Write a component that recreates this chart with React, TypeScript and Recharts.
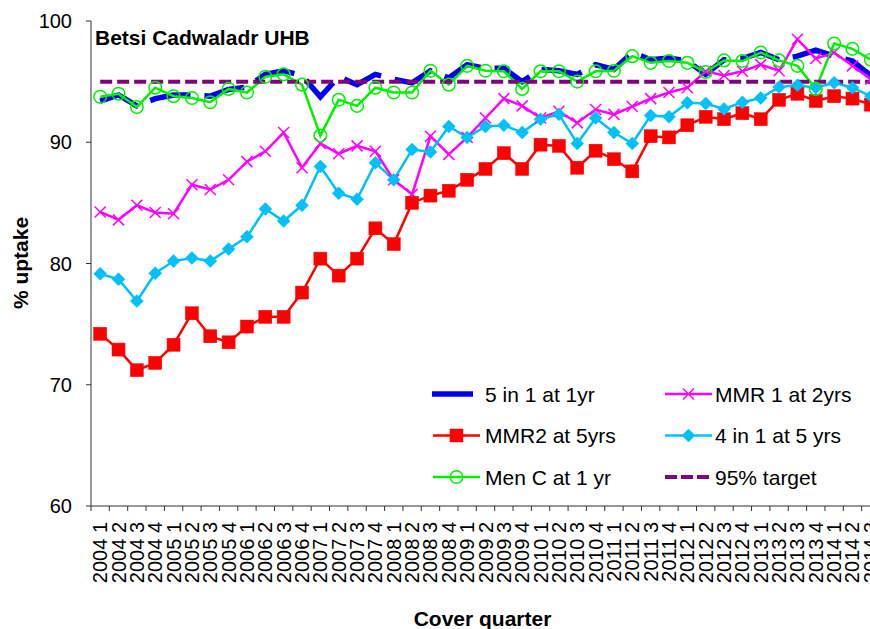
import React from 'react';
import { LineChart, Line, XAxis, YAxis, Legend } from 'recharts';

// ---------- data ----------
const quarters = [
  '2004 1', '2004 2', '2004 3', '2004 4',
  '2005 1', '2005 2', '2005 3', '2005 4',
  '2006 1', '2006 2', '2006 3', '2006 4',
  '2007 1', '2007 2', '2007 3', '2007 4',
  '2008 1', '2008 2', '2008 3', '2008 4',
  '2009 1', '2009 2', '2009 3', '2009 4',
  '2010 1', '2010 2', '2010 3', '2010 4',
  '2011 1', '2011 2', '2011 3', '2011 4',
  '2012 1', '2012 2', '2012 3', '2012 4',
  '2013 1', '2013 2', '2013 3', '2013 4',
  '2014 1', '2014 2', '2014 3',
];

const fiveInOne = [
  93.4, 93.9, 93.0, 93.6, 93.9, 93.9, 93.8, 94.35, 94.55, 95.6,
  95.9, 95.5, 93.75, 95.4, 94.75, 95.6, 95.2, 94.9, 95.9, 95.3,
  96.4, 96.1, 96.1, 95.0, 96.0, 95.9, 95.6, 96.4, 96.0, 97.4,
  96.8, 96.95, 96.7, 95.6, 96.8, 96.9, 97.4, 96.8, 97.1, 97.6,
  97.1, 96.7, 95.5,
];

const mmr1 = [
  84.25, 83.6, 84.8, 84.2, 84.1, 86.5, 86.1, 86.9, 88.4, 89.25,
  90.8, 87.9, 89.9, 89.05, 89.7, 89.25, 86.9, 85.7, 90.5, 89.0,
  90.4, 92.0, 93.6, 93.0, 92.0, 92.55, 91.6, 92.7, 92.3, 92.95,
  93.6, 94.1, 94.5, 95.85, 95.5, 95.85, 96.4, 95.9, 98.5, 96.9,
  97.4, 96.3, 95.2,
];

const mmr2 = [
  74.2, 72.9, 71.2, 71.8, 73.3, 75.9, 74.0, 73.5, 74.8, 75.6,
  75.6, 77.6, 80.4, 79.0, 80.4, 82.9, 81.6, 85.0, 85.6, 86.0,
  86.9, 87.8, 89.1, 87.8, 89.8, 89.7, 87.9, 89.3, 88.6, 87.6,
  90.5, 90.4, 91.4, 92.1, 91.9, 92.4, 91.9, 93.5, 94.0, 93.4,
  93.8, 93.6, 93.1,
];

const fourInOne = [
  79.15, 78.7, 76.9, 79.2, 80.2, 80.45, 80.2, 81.2, 82.2, 84.5,
  83.5, 84.8, 88.0, 85.8, 85.3, 88.3, 86.9, 89.4, 89.2, 91.3,
  90.4, 91.3, 91.4, 90.8, 91.9, 92.3, 89.9, 92.0, 90.8, 89.9,
  92.2, 92.1, 93.25, 93.2, 92.75, 93.3, 93.65, 94.55, 94.7, 94.5,
  94.9, 94.5, 93.8,
];

const menC = [
  93.75, 94.0, 92.9, 94.5, 93.8, 93.65, 93.3, 94.4, 94.1, 95.4,
  95.6, 94.75, 90.55, 93.5, 93.0, 94.5, 94.1, 94.1, 95.9, 94.75,
  96.3, 95.9, 95.85, 94.4, 95.85, 95.85, 95.0, 95.85, 95.9, 97.1,
  96.55, 96.7, 96.55, 95.8, 96.75, 96.7, 97.4, 96.75, 96.3, 94.4,
  98.15, 97.7, 96.8,
];

const target = [
  95, 95, 95, 95, 95, 95, 95, 95, 95, 95,
  95, 95, 95, 95, 95, 95, 95, 95, 95, 95,
  95, 95, 95, 95, 95, 95, 95, 95, 95, 95,
  95, 95, 95, 95, 95, 95, 95, 95, 95, 95,
  95, 95, 95,
];

const yTicks = [60, 70, 80, 90, 100];

const seriesNames = {
  fiveInOne: '5 in 1 at 1yr',
  mmr1: 'MMR 1 at 2yrs',
  mmr2: 'MMR2 at 5yrs',
  fourInOne: '4 in 1 at 5 yrs',
  menC: 'Men C at 1 yr',
  target: '95% target',
};

const rows = quarters.map((q, i) => ({
  quarter: q,
  fiveInOne: fiveInOne[i],
  mmr1: mmr1[i],
  mmr2: mmr2[i],
  fourInOne: fourInOne[i],
  menC: menC[i],
  target: target[i],
}));

// ---------- layout / style ----------
const FONT = '"Liberation Sans", Arial, sans-serif';
const CHART_W = 890;
const CHART_H = 629;
const MARGIN = { top: 21, right: 10, bottom: 43, left: 31 };
const Y_AXIS_W = 60;
const X_AXIS_H = 80;
const PLOT_W = CHART_W - MARGIN.left - MARGIN.right - Y_AXIS_W;
const BAND = PLOT_W / quarters.length;
const AXIS_COLOR = '#333333';

const C_BLUE = '#0000F0';
const C_MAG = '#FF00FF';
const C_RED = '#FF0000';
const C_CYAN = '#00C0F8';
const C_GREEN = '#00F000';
const C_PURPLE = '#800080';

const XMark = (cx: number, cy: number, key?: any) => (
  <path
    key={key}
    d={`M${cx - 5.5},${cy - 5.5}L${cx + 5.5},${cy + 5.5}M${cx - 5.5},${cy + 5.5}L${cx + 5.5},${cy - 5.5}`}
    stroke={C_MAG}
    strokeWidth={1.5}
    fill="none"
  />
);
const Square = (cx: number, cy: number, key?: any) => (
  <rect key={key} x={cx - 6.5} y={cy - 6.5} width={13} height={13} fill={C_RED} stroke={C_RED} strokeWidth={0.5} />
);
const Diamond = (cx: number, cy: number, key?: any) => (
  <path key={key} d={`M${cx},${cy - 6.5}L${cx + 6.5},${cy}L${cx},${cy + 6.5}L${cx - 6.5},${cy}Z`} fill={C_CYAN} stroke={C_CYAN} strokeWidth={0.5} />
);
const Ring = (cx: number, cy: number, key?: any) => (
  <circle key={key} cx={cx} cy={cy} r={6.3} fill="none" stroke={C_GREEN} strokeWidth={1.5} />
);

const dotFn = (shape: (cx: number, cy: number, key?: any) => React.ReactElement) => (props: any) => {
  const { cx, cy, index } = props;
  if (cx == null || cy == null) return <g key={index} />;
  return shape(cx, cy, index);
};

const XTick = (props: any) => {
  const { x, y, payload, index } = props;
  const half = BAND / 2;
  return (
    <g>
      <line x1={x - half} x2={x - half} y1={y} y2={y + 5} stroke={AXIS_COLOR} strokeWidth={1} />
      {index === quarters.length - 1 && (
        <line x1={x + half} x2={x + half} y1={y} y2={y + 5} stroke={AXIS_COLOR} strokeWidth={1} />
      )}
      <text
        transform={`translate(${x},${y + 16}) rotate(-90)`}
        textAnchor="end"
        dy="0.35em"
        fontSize={20}
        fontFamily={FONT}
        fill="#000"
      >
        {payload.value}
      </text>
    </g>
  );
};

// legend layout (relative to legend wrapper)
const LEG_LEFT = 420;
const LEG_TOP = 370;
const legendItems = [
  { key: 'fiveInOne', col: 0, row: 0 },
  { key: 'mmr1', col: 1, row: 0 },
  { key: 'mmr2', col: 0, row: 1 },
  { key: 'fourInOne', col: 1, row: 1 },
  { key: 'menC', col: 0, row: 2 },
  { key: 'target', col: 1, row: 2 },
];

const LegendContent = () => {
  const colX = [13, 245];
  const textX = [65, 295];
  const rowY = [24, 65.5, 107];
  return (
    <svg width={450} height={130} style={{ display: 'block', overflow: 'visible' }}>
      {legendItems.map((it) => {
        const x0 = colX[it.col];
        const y = rowY[it.row];
        const cx = x0 + 23.5;
        let icon: React.ReactNode = null;
        if (it.key === 'fiveInOne') {
          icon = <line x1={x0 - 1} x2={x0 + 40} y1={y} y2={y} stroke={C_BLUE} strokeWidth={5.5} />;
        } else if (it.key === 'mmr1') {
          icon = (
            <g>
              <line x1={x0} x2={x0 + 47} y1={y} y2={y} stroke={C_MAG} strokeWidth={2.5} />
              {XMark(cx, y)}
            </g>
          );
        } else if (it.key === 'mmr2') {
          icon = (
            <g>
              <line x1={x0} x2={x0 + 47} y1={y} y2={y} stroke={C_RED} strokeWidth={2.5} />
              {Square(cx, y)}
            </g>
          );
        } else if (it.key === 'fourInOne') {
          icon = (
            <g>
              <line x1={x0} x2={x0 + 47} y1={y} y2={y} stroke={C_CYAN} strokeWidth={2.5} />
              {Diamond(cx, y)}
            </g>
          );
        } else if (it.key === 'menC') {
          icon = (
            <g>
              <line x1={x0} x2={x0 + 47} y1={y} y2={y} stroke={C_GREEN} strokeWidth={2.5} />
              {Ring(cx, y)}
            </g>
          );
        } else {
          icon = <line x1={x0} x2={x0 + 44} y1={y} y2={y} stroke={C_PURPLE} strokeWidth={4} strokeDasharray="12 4" />;
        }
        return (
          <g key={it.key}>
            {icon}
            <text x={textX[it.col]} y={y + 7.5} fontSize={21} fontFamily={FONT} fill="#000">
              {(seriesNames as any)[it.key]}
            </text>
          </g>
        );
      })}
    </svg>
  );
};

export default function App() {
  return (
    <div
      style={{
        position: 'absolute',
        left: 0,
        top: 0,
        width: 870,
        height: 629,
        overflow: 'hidden',
        background: '#fff',
        fontFamily: FONT,
      }}
    >
      <LineChart width={CHART_W} height={CHART_H} data={rows} margin={MARGIN}>
        <XAxis
          dataKey="quarter"
          interval={0}
          height={X_AXIS_H}
          padding={{ left: BAND / 2, right: BAND / 2 }}
          tick={<XTick />}
          tickLine={false}
          tickSize={0}
          tickMargin={0}
          axisLine={{ stroke: AXIS_COLOR, strokeWidth: 1 }}
        />
        <YAxis
          type="number"
          domain={[60, 100]}
          ticks={yTicks}
          interval={0}
          width={Y_AXIS_W}
          tickSize={5}
          tickMargin={14}
          tickLine={{ stroke: AXIS_COLOR }}
          axisLine={{ stroke: AXIS_COLOR, strokeWidth: 1 }}
          tick={{ fontSize: 20, fontFamily: FONT, fill: '#000' }}
        />
        <Legend
          layout="horizontal"
          verticalAlign="middle"
          align="center"
          content={<LegendContent />}
          wrapperStyle={{ left: LEG_LEFT, top: LEG_TOP, width: 450, height: 130 }}
        />
        <Line
          dataKey="fiveInOne"
          name={seriesNames.fiveInOne}
          stroke={C_BLUE}
          strokeWidth={5.5}
          strokeDasharray="41 14"
          dot={false}
          activeDot={false}
          isAnimationActive={false}
        />
        <Line
          dataKey="mmr1"
          name={seriesNames.mmr1}
          stroke={C_MAG}
          strokeWidth={2.5}
          dot={dotFn(XMark)}
          activeDot={false}
          isAnimationActive={false}
        />
        <Line
          dataKey="mmr2"
          name={seriesNames.mmr2}
          stroke={C_RED}
          strokeWidth={2.5}
          dot={dotFn(Square)}
          activeDot={false}
          isAnimationActive={false}
        />
        <Line
          dataKey="fourInOne"
          name={seriesNames.fourInOne}
          stroke={C_CYAN}
          strokeWidth={2.5}
          dot={dotFn(Diamond)}
          activeDot={false}
          isAnimationActive={false}
        />
        <Line
          dataKey="menC"
          name={seriesNames.menC}
          stroke={C_GREEN}
          strokeWidth={2.5}
          dot={dotFn(Ring)}
          activeDot={false}
          isAnimationActive={false}
        />
        <Line
          dataKey="target"
          name={seriesNames.target}
          stroke={C_PURPLE}
          strokeWidth={4}
          strokeDasharray="12 5"
          dot={false}
          activeDot={false}
          isAnimationActive={false}
        />
      </LineChart>
      <svg
        width={870}
        height={629}
        style={{ position: 'absolute', left: 0, top: 0, pointerEvents: 'none' }}
      >
        <text x={95} y={45} fontSize={21} fontWeight="bold" fontFamily={FONT} fill="#000">
          Betsi Cadwaladr UHB
        </text>
        <text
          transform="translate(28,263) rotate(-90)"
          textAnchor="middle"
          fontSize={21}
          fontWeight="bold"
          fontFamily={FONT}
          fill="#000"
        >
          % uptake
        </text>
        <text x={482.5} y={626} textAnchor="middle" fontSize={21} fontWeight="bold" fontFamily={FONT} fill="#000">
          Cover quarter
        </text>
      </svg>
    </div>
  );
}
